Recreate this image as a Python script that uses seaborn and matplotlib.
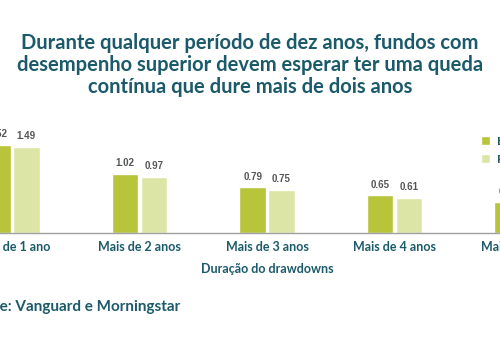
import matplotlib
matplotlib.use("Agg")
import matplotlib.pyplot as plt
import seaborn as sns
import pandas as pd
from matplotlib.patches import Patch

categories = ["Mais de 1 ano", "Mais de 2 anos", "Mais de 3 anos", "Mais de 4 anos", "Mais de 5 anos"]
series_names = ["Esperado", "Persistente"]
serie_a = [1.52, 1.02, 0.79, 0.65, 0.53]
serie_b = [1.49, 0.97, 0.75, 0.61, 0.50]

title = ("Durante qualquer período de dez anos, fundos com\n"
         "desempenho superior devem esperar ter uma queda\n"
         "contínua que dure mais de dois anos")
xlabel = "Duração do drawdowns"
source = "Fonte: Vanguard e Morningstar"

teal = "#1b5a6a"
colors = ["#b8c43a", "#dce5a6"]

df = pd.DataFrame({
    "cat": categories * 2,
    "serie": [series_names[0]] * len(categories) + [series_names[1]] * len(categories),
    "val": serie_a + serie_b,
})

sns.set_theme(style="white")
plt.rcParams["font.family"] = ["Lato", "DejaVu Sans"]

fig = plt.figure(figsize=(5, 3.5), dpi=100)
W, H = 500, 350
px_per_cat = 127.5
center2 = 267
left_px = center2 - 2.5 * px_per_cat
base_px = 233
ytop = 1.75
px_per_unit = 58
ax = fig.add_axes([left_px / W, (H - base_px) / H, 5 * px_per_cat / W, ytop * px_per_unit / H])

sns.barplot(data=df, x="cat", y="val", hue="serie", palette=colors, width=0.45, gap=0.07,
            ax=ax, legend=False, saturation=1)
ax.set_xlim(-0.5, 4.5)
ax.set_ylim(0, ytop)
for c in ax.containers:
    ax.bar_label(c, fmt="%.2f", padding=4, fontsize=7, color="#555555",
                 family=["Liberation Sans", "DejaVu Sans"], fontweight="bold")

for s in ["top", "right", "left"]:
    ax.spines[s].set_visible(False)
ax.spines["bottom"].set_color("#a0a0a0")
ax.spines["bottom"].set_linewidth(1.0)
ax.set_yticks([])
ax.set_ylabel("")
ax.tick_params(axis="x", length=0, pad=6, labelsize=9, labelcolor=teal)
for t in ax.get_xticklabels():
    t.set_fontweight("bold")
ax.set_xlabel(xlabel, fontsize=9, color=teal, fontweight="bold", labelpad=7)

fig.text(0.5, 1 - 65 / H, title, ha="center", va="center", fontsize=14.5,
         fontweight="bold", color=teal, linespacing=1.1)
fig.text(180 / W, 1 - 307 / H, source, ha="right", va="center", fontsize=11,
         fontweight="bold", color=teal)

handles = [Patch(facecolor=colors[0]), Patch(facecolor=colors[1])]
fig.legend(handles, series_names, loc="upper left", bbox_to_anchor=(470 / W, 1 - 125 / H),
           frameon=False, labelcolor=teal, handlelength=0.8, handleheight=0.8,
           handletextpad=0.6, labelspacing=0.6, prop={"weight": "bold", "size": 8.5})

fig.savefig("out.png", dpi=100)
